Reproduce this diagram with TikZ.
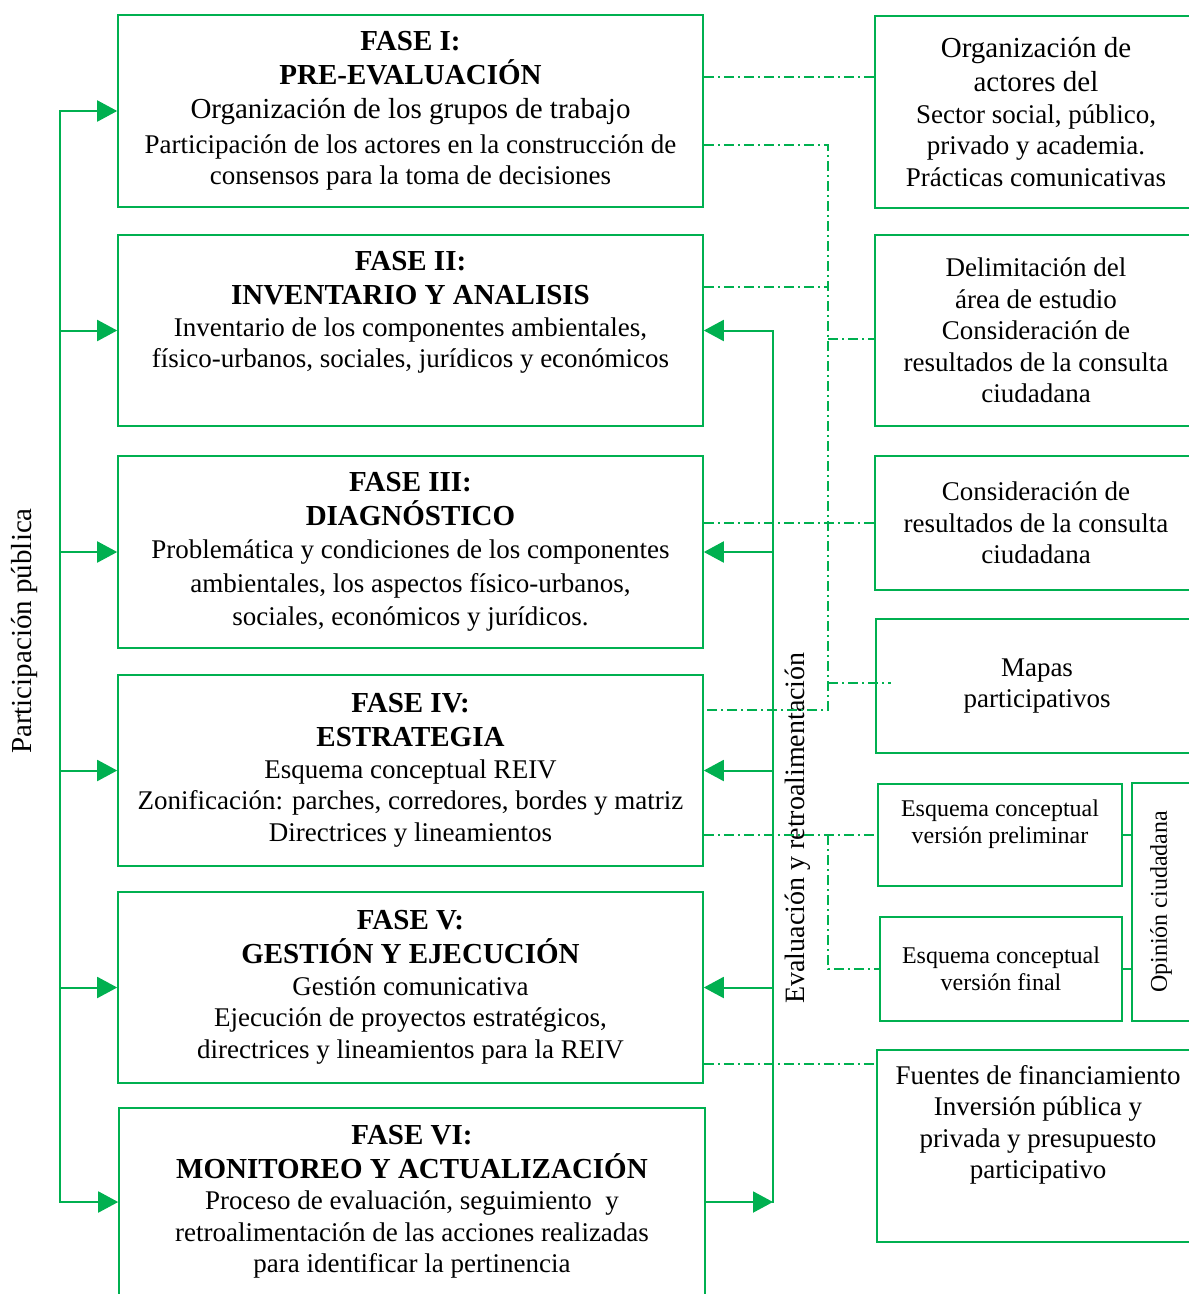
\documentclass[tikz,border=0pt]{standalone}
\usepackage{fontspec}
\setmainfont{Liberation Serif}
\usetikzlibrary{arrows.meta,positioning,calc}
\definecolor{reivgreen}{RGB}{0,176,80}
\newcommand{\headfont}{\fontsize{29}{34}\selectfont\bfseries}
\newcommand{\bigfont}{\fontsize{29}{34}\selectfont}

\begin{document}
\begin{tikzpicture}[x=1pt, y=-1pt,
  phase/.style={draw=reivgreen, line width=1.6pt, minimum width=585pt, minimum height=191pt, align=center, inner sep=0pt, font=\fontsize{27}{31.5}\selectfont},
  side/.style={draw=reivgreen, line width=1.6pt, minimum width=322pt, minimum height=191pt, align=center, inner sep=0pt, font=\fontsize{27}{31.5}\selectfont},
  small/.style={draw=reivgreen, line width=1.6pt, align=center, inner sep=0pt, font=\fontsize{24}{27}\selectfont},
  plain/.style={align=center, inner sep=0pt, font=\fontsize{27}{31.5}\selectfont},
  flow/.style={draw=reivgreen, line width=2pt, -{Triangle[length=20pt,width=21pt]}},
  link/.style={draw=reivgreen, line width=2pt, line cap=rect},
  dotlink/.style={draw=reivgreen, line width=2pt, dash pattern=on 10pt off 4pt on 2pt off 4pt}]

\useasboundingbox (0,0) rectangle (1189,1294);

% Phases
\node[phase, minimum height=192pt] (fase1) at (410.5,111) {
    {\headfont FASE I:}\\[2.5pt]
    {\headfont PRE-EVALUACIÓN}\\[2.5pt]
    {\bigfont Organización de los grupos de trabajo}\\[3pt]
    Participación de los actores en la construcción de\\
    consensos para la toma de decisiones
};

\node[phase] (fase2) at (410.5,330.5) {};
\node[plain, anchor=north] (fase2txt) at ([yshift=-17pt]fase2.north) {
    {\headfont FASE II:}\\[2.5pt]
    {\headfont INVENTARIO Y ANALISIS}\\
    Inventario de los componentes ambientales,\\
    físico-urbanos, sociales, jurídicos y económicos
};

\node[phase, minimum height=192pt] (fase3) at (410.5,552) {
    {\headfont FASE III:}\\[2.5pt]
    {\headfont DIAGNÓSTICO}\\[2pt]
    Problemática y condiciones de los componentes\\[2pt]
    ambientales, los aspectos físico-urbanos,\\[2pt]
    sociales, económicos y jurídicos.
};

\node[phase] (fase4) at (410.5,770.5) {
    {\headfont FASE IV:}\\[2.5pt]
    {\headfont ESTRATEGIA}\\
    Esquema conceptual REIV\\
    Zonificación: parches, corredores, bordes y matriz\\
    Directrices y lineamientos
};

\node[phase] (fase5) at (410.5,987.5) {
    {\headfont FASE V:}\\[2.5pt]
    {\headfont GESTIÓN Y EJECUCIÓN}\\
    Gestión comunicativa\\
    Ejecución de proyectos estratégicos,\\
    directrices y lineamientos para la REIV
};

\node[phase, minimum width=586pt, minimum height=188pt] (fase6) at (412,1202) {
    {\headfont FASE VI:}\\[2.5pt]
    {\headfont MONITOREO Y ACTUALIZACIÓN}\\
    Proceso de evaluación, seguimiento\ \ y\\
    retroalimentación de las acciones realizadas\\
    para identificar la pertinencia
};

% Side labels
\node[plain, rotate=90, font=\bigfont] (partic) at (25,631) {Participación pública};
\node[plain, rotate=90, font=\fontsize{28}{34}\selectfont] (evalua) at (798,828) {Evaluación y retroalimentación};

% Right column
\node[side, minimum height=192pt] (actores) at (1036,112) {
    {\bigfont Organización de}\\[2.5pt]
    {\bigfont actores del}\\
    Sector social, público,\\
    privado y academia.\\
    Prácticas comunicativas
};

\node[side] (delim) at (1036,330.5) {
    Delimitación del\\
    área de estudio\\
    Consideración de\\
    resultados de la consulta\\
    ciudadana
};

\node[side, minimum height=134pt] (consulta) at (1036,523) {
    Consideración de\\
    resultados de la consulta\\
    ciudadana
};

\node[side, minimum height=134pt] (mapas) at (1037,686) {
    Mapas\\
    participativos
};

\node[small, minimum width=244pt, minimum height=102pt] (esqprel) at (1000,835) {};
\node[plain, anchor=north, font=\fontsize{24}{27}\selectfont] (esqpreltxt) at ([yshift=-16pt]esqprel.north) {
    Esquema conceptual\\
    versión preliminar
};

\node[small, minimum width=242pt, minimum height=104pt] (esqfin) at (1001,969) {
    Esquema conceptual\\
    versión final
};

\node[small, minimum width=58pt, minimum height=238pt] (opinion) at (1161,902) {};
\node[plain, rotate=90, font=\fontsize{24}{27}\selectfont] (opiniontxt) at (opinion.center) {Opinión ciudadana};

\node[side, minimum height=192pt] (fuentes) at (1038,1146) {};
\node[plain, anchor=north] (fuentestxt) at ([yshift=-16pt]fuentes.north) {
    Fuentes de financiamiento\\
    Inversión pública y\\
    privada y presupuesto\\
    participativo
};

% Public participation arrows
\coordinate (pin) at (60,0);
\draw[link] (pin |- fase1.west) -- (pin |- fase6.west);
\draw[flow] (pin |- fase1.west) -- (fase1.west);
\draw[flow] (pin |- fase2.west) -- (fase2.west);
\draw[flow] (pin |- fase3.west) -- (fase3.west);
\draw[flow] (pin |- fase4.west) -- (fase4.west);
\draw[flow] (pin |- fase5.west) -- (fase5.west);
\draw[flow] (pin |- fase6.west) -- (fase6.west);

% Feedback arrows
\coordinate (eva) at (773,0);
\draw[link] (eva |- fase2.east) -- (eva |- fase6.east);
\draw[flow] (fase6.east) -- (eva |- fase6.east);
\draw[flow] (eva |- fase2.east) -- (fase2.east);
\draw[flow] (eva |- fase3.east) -- (fase3.east);
\draw[flow] (eva |- fase4.east) -- (fase4.east);
\draw[flow] (eva |- fase5.east) -- (fase5.east);

% Dash-dot links
\coordinate (jorg) at (740,77);
\coordinate (jtop) at (828,145);
\coordinate (jfas2) at (828,287);
\coordinate (jdel) at (828,339);
\coordinate (jmap) at (828,683);
\coordinate (jbot) at (828,710);
\coordinate (jesq) at (828,835);
\coordinate (jfin) at (740,1064);

\draw[dotlink] (fase1.east |- jorg) -- (actores.west |- jorg);
\draw[dotlink] (fase1.east |- jtop) -- (jtop) -- (jbot) -- (jbot -| fase4.east);
\draw[dotlink] (fase2.east |- jfas2) -- (jfas2);
\draw[dotlink] (jdel) -- (jdel -| delim.west);
\draw[dotlink] (jmap) -- ([xshift=16pt]mapas.west |- jmap);
\draw[dotlink] (fase3.east |- consulta.west) -- (consulta.west);
\draw[dotlink] (fase4.east |- esqprel.west) -- (esqprel.west);
\draw[dotlink] (jesq) |- (esqfin.west);
\draw[dotlink] (fase5.east |- jfin) -- (fuentes.west |- jfin);

% Citizen opinion
\draw[link] (esqprel.east) -- (esqprel.east -| opinion.west);
\draw[link] (esqfin.east) -- (esqfin.east -| opinion.west);

\end{tikzpicture}
\end{document}
